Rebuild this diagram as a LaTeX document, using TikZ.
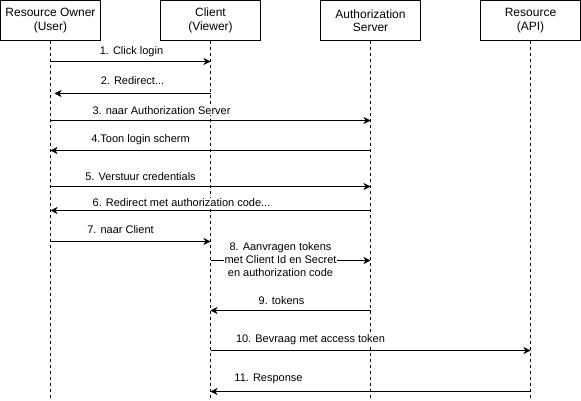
\documentclass[tikz,border=0pt]{standalone}
\usepackage{fontspec}
\setmainfont{Liberation Sans}
\usetikzlibrary{arrows.meta}

\tikzset{
	actor/.style={draw=black, line width=1pt, fill=white, minimum width=100pt,
		minimum height=40pt, inner sep=0pt, align=center,
		font=\fontsize{12}{13.5}\selectfont},
	lifeline/.style={line width=1pt, dash pattern=on 3pt off 3pt},
	msg/.style={line width=1pt, -{Stealth[length=7pt, width=7pt, inset=2pt]}},
	lbl/.style={fill=white, inner sep=0.5pt, align=center,
		font=\fontsize{11}{13}\selectfont}
}

\begin{document}
\begin{tikzpicture}[x=1pt, y=-1pt]
	\useasboundingbox (-0.5, -0.5) rectangle (580.5, 400.5);
	
	% actors
	\node[actor] (owner)  at (50, 20)  {Resource Owner\\(User)};
	\node[actor] (client) at (210, 20) {Client\\(Viewer)};
	\node[actor] (auth)   at (370, 20) {Authorization\\Server};
	\node[actor] (api)    at (530, 20) {Resource\\(API)};
	
	% lifelines
	\coordinate (ownerend)  at (50, 401);
	\coordinate (clientend) at (210, 401);
	\coordinate (authend)   at (370, 401);
	\coordinate (apiend)    at (530, 401);
	\draw[lifeline] (owner)  -- (ownerend);
	\draw[lifeline] (client) -- (clientend);
	\draw[lifeline] (auth)   -- (authend);
	\draw[lifeline] (api)    -- (apiend);
	
	% message rows
	\coordinate (m1)  at (0, 61);
	\coordinate (m2)  at (0, 93);
	\coordinate (m3)  at (0, 120);
	\coordinate (m4)  at (0, 150);
	\coordinate (m5)  at (0, 186);
	\coordinate (m6)  at (0, 210);
	\coordinate (m7)  at (0, 241);
	\coordinate (m8)  at (0, 260);
	\coordinate (m9)  at (0, 310);
	\coordinate (m10) at (0, 350);
	\coordinate (m11) at (0, 391);
	
	\draw[msg] (owner |- m1)  -- (client |- m1);
	\draw[msg, shorten >=4pt] (client |- m2) -- (owner |- m2);
	\draw[msg] (owner |- m3)  -- (auth |- m3);
	\draw[msg] (auth |- m4)   -- (owner |- m4);
	\draw[msg] (owner |- m5)  -- (auth |- m5);
	\draw[msg] (auth |- m6)   -- (owner |- m6);
	\draw[msg] (owner |- m7)  -- (client |- m7);
	\draw[msg] (client |- m8) -- (auth |- m8);
	\draw[msg] (auth |- m9)   -- (client |- m9);
	\draw[msg] (client |- m10) -- (api |- m10);
	\draw[msg] (api |- m11)   -- (client |- m11);
	
	% labels
	\node[lbl] (l1)  at (131, 51)  {1. Click login};
	\node[lbl] (l2)  at (132, 80)  {2. Redirect...};
	\node[lbl] (l3)  at (161, 110) {3. naar Authorization Server};
	\node[lbl] (l4)  at (140, 139) {4.Toon login scherm};
	\node[lbl] (l5)  at (140, 176) {5. Verstuur credentials};
	\node[lbl] (l6)  at (181, 202) {6. Redirect met authorization code...};
	\node[lbl] (l7)  at (120, 229) {7. naar Client};
	\node[lbl] (l8)  at (280, 259) {8. Aanvragen tokens\\met Client Id en Secret\\en authorization code};
	\node[lbl] (l9)  at (281, 300) {9. tokens};
	\node[lbl] (l10) at (310, 339) {10. Bevraag met access token};
	\node[lbl] (l11) at (268, 378) {11. Response};
\end{tikzpicture}
\end{document}
